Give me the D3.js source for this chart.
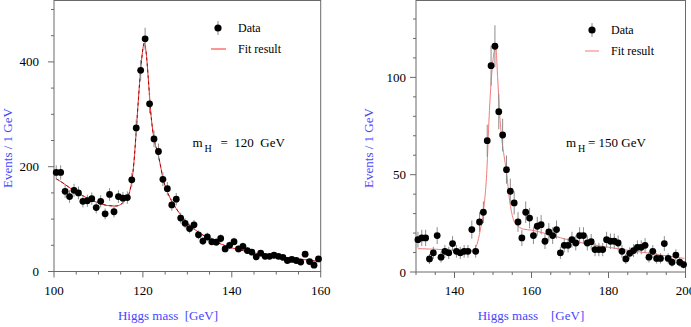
<!DOCTYPE html>
<html>
<head>
<meta charset="utf-8">
<script src="https://cdn.jsdelivr.net/npm/d3@7"></script>
<style>
  body { margin: 0; background: #fff; }
  svg text { font-family: "Liberation Serif", "DejaVu Serif", serif; }
</style>
</head>
<body>
<svg width="691" height="327"></svg>
<script>
// left panel: m_H = 120 GeV, bins of 1 GeV centred on half integers
var massLeft = d3.range(100.5, 160, 1);
var countsLeft = [189, 189, 153, 143, 155, 150, 134, 135, 139, 122, 134, 110, 147, 114, 143, 140, 141, 175,
    274, 384, 444, 320, 253, 229, 176, 158, 127, 138, 102, 92, 82, 89, 70, 58, 66, 57, 56, 63, 43, 50,
    57, 43, 48, 40, 37, 28, 35, 29, 29, 31, 29, 27, 21, 23, 21, 18, 33, 19, 12, 24];
var fitLeftMass = [100.5, 102, 104, 106, 108, 110, 112, 114, 115, 116, 117, 117.5, 118, 118.5, 119, 119.5, 120, 120.3,
    120.7, 121.2, 121.7, 122.2, 122.7, 123.3, 124, 124.5, 125.5, 126.5, 127.5, 128.5, 129.5, 130.5, 132, 134,
    136, 138, 140, 143, 146, 150, 155, 159.7];
var fitLeftVal = [177, 169, 157, 147, 138, 131, 126, 125, 128, 136, 152, 172, 210, 268, 330, 385, 425, 436,
    420, 370, 310, 270, 245, 228, 200, 178, 152, 134, 120, 108, 97, 88, 78, 67,
    58, 51, 45, 39, 34, 29, 24, 19];
var xTicksLeft = [100, 120, 140, 160];
var yTicksLeft = [0, 200, 400];

// right panel: m_H = 150 GeV
var massRight = d3.range(130.5, 200, 1);
var countsRight = [16.6, 17.5, 17.5, 6.7, 9.8, 18.7, 7.6, 10.6, 9.8, 14.6, 10.6, 9.8, 10.6, 10.6, 21.8, 10.6, 25.7, 30.7,
    67.5, 106, 116, 82.4, 70.4, 52.6, 41.5, 35.5, 25.7, 17.5, 30.7, 27.7, 18.7, 23.5, 24.3, 15.8, 20.6, 18.7,
    21.8, 9.8, 13.7, 13.7, 16.6, 14.9, 18.7, 18.7, 14.9, 15.6, 11.5, 11.5, 11.5, 16.6, 15.8, 15.8, 14.9, 10.6,
    6.7, 9.6, 11, 12.7, 12.7, 13.7, 7.6, 10.6, 7, 7, 14.6, 7, 5, 8.7, 5, 3.8];
var fitRightMass = [130.5, 135, 140, 144, 145, 145.8, 146.7, 147.5, 148.4, 149, 149.6, 150.2, 150.7, 151.2, 151.7,
    152.3, 153, 153.6, 154, 154.9, 155.8, 158, 160, 165, 170, 175, 180, 185, 190, 195, 199.7];
var fitRightVal = [12, 11.7, 11.2, 11, 11.5, 14, 21.6, 31, 52, 80, 100, 112, 116, 100, 82,
    68, 58, 50, 42, 30, 25, 22, 21.5, 19, 16.3, 14.3, 12.7, 11.2, 9.8, 8.3, 7];
var xTicksRight = [140, 160, 180, 200];
var yTicksRight = [0, 50, 100];

var blue = '#4646ff';
var axisColor = '#6a6a6a';
var svg = d3.select('svg');

function drawPanel(p) {
    var x = d3.scaleLinear().domain(p.xDomain).range(p.xRange);
    var y = d3.scaleLinear().domain(p.yDomain).range(p.yRange);
    var g = svg.append('g');
    var x0 = p.xRange[0], x1 = p.xRange[1], yb = p.yRange[0], yt = 0.5;

    // frame
    g.append('rect')
        .attr('x', x0).attr('y', yt)
        .attr('width', x1 - x0).attr('height', yb - yt)
        .attr('fill', 'none').attr('stroke', axisColor).attr('stroke-width', 1);

    // x ticks (major + minor)
    var xMinor = d3.range(p.xDomain[0], p.xDomain[1] + 0.01, p.xMinorStep);
    g.selectAll('.xt').data(xMinor).enter().append('line')
        .attr('x1', d => x(d)).attr('x2', d => x(d))
        .attr('y1', yb).attr('y2', d => yb + (p.xTicks.indexOf(d) >= 0 ? 6 : 3))
        .attr('stroke', axisColor);
    g.selectAll('.xl').data(p.xTicks).enter().append('text')
        .attr('x', d => x(d)).attr('y', 295)
        .attr('text-anchor', 'middle').attr('font-size', 13)
        .text(d => d);

    // y ticks
    var yMinor = d3.range(0, p.yDomain[1] + 0.01, p.yMinorStep).filter(d => y(d) >= 0);
    g.selectAll('.yt').data(yMinor).enter().append('line')
        .attr('y1', d => y(d)).attr('y2', d => y(d))
        .attr('x1', x0).attr('x2', d => x0 - (p.yTicks.indexOf(d) >= 0 ? 6 : 3))
        .attr('stroke', axisColor);
    g.selectAll('.yl').data(p.yTicks).enter().append('text')
        .attr('x', p.yLabelX).attr('y', d => y(d) + 4.5)
        .attr('text-anchor', 'end').attr('font-size', 13)
        .text(d => d);

    // fit curve
    var fit = p.fitMass.map((m, i) => [m, p.fitVal[i]]);
    var line = d3.line().x(d => x(d[0])).y(d => y(d[1])).curve(d3.curveMonotoneX);
    g.append('path').datum(fit)
        .attr('d', line).attr('fill', 'none')
        .attr('stroke', p.fitColor).attr('stroke-width', 1);
    if (p.fitDash) {
        g.append('path').datum(fit)
            .attr('d', line).attr('fill', 'none')
            .attr('stroke', '#5a0000').attr('stroke-width', 0.8)
            .attr('stroke-dasharray', '3,3');
    }

    // data with poisson error bars
    var pts = p.mass.map((m, i) => ({m: m, n: p.counts[i]}));
    g.selectAll('.eb').data(pts).enter().append('line')
        .attr('x1', d => x(d.m)).attr('x2', d => x(d.m))
        .attr('y1', d => y(d.n + Math.sqrt(d.n))).attr('y2', d => y(d.n - Math.sqrt(d.n)))
        .attr('stroke', '#8c8c8c').attr('stroke-width', 1);
    g.selectAll('.pt').data(pts).enter().append('circle')
        .attr('cx', d => x(d.m)).attr('cy', d => y(d.n))
        .attr('r', 3.4).attr('fill', '#000');

    // legend
    var lg = p.legend;
    g.append('line').attr('x1', lg.mx).attr('x2', lg.mx)
        .attr('y1', lg.my - 7).attr('y2', lg.my + 7).attr('stroke', '#8c8c8c');
    g.append('circle').attr('cx', lg.mx).attr('cy', lg.my).attr('r', 3.6).attr('fill', '#000');
    g.append('text').attr('x', lg.tx).attr('y', lg.my + 4).attr('font-size', 12).text('Data');
    g.append('line').attr('x1', lg.lx0).attr('x2', lg.lx1)
        .attr('y1', lg.my + 21).attr('y2', lg.my + 21).attr('stroke', p.fitColor);
    g.append('text').attr('x', lg.tx).attr('y', lg.my + 25).attr('font-size', 12).text('Fit result');

    // mass annotation
    var mt = g.append('text').attr('y', 147).attr('font-size', 13).style('white-space', 'pre');
    mt.append('tspan').attr('x', p.mh.x).text('m');
    mt.append('tspan').attr('x', p.mh.x + 12).attr('dy', 5).attr('font-size', 10).text('H');
    mt.append('tspan').attr('x', p.mh.x + p.mh.eq).attr('dy', -5).text(p.mh.text);

    // axis titles
    g.append('text')
        .attr('transform', 'translate(' + [p.yTitleX, 148] + ') rotate(-90)')
        .attr('text-anchor', 'middle').attr('font-size', 13).attr('fill', blue)
        .text('Events / 1 GeV');
    g.append('text')
        .attr('x', p.xTitleX).attr('y', 320)
        .attr('text-anchor', 'middle').attr('font-size', 13).attr('fill', blue)
        .style('white-space', 'pre')
        .text(p.xTitle);
}

drawPanel({
    xDomain: [100, 160], xRange: [54, 320.7], xMinorStep: 5, xTicks: xTicksLeft,
    yDomain: [0, 500], yRange: [271.5, 9.5], yMinorStep: 50, yTicks: yTicksLeft, yLabelX: 39,
    mass: massLeft, counts: countsLeft, fitMass: fitLeftMass, fitVal: fitLeftVal,
    fitColor: '#ff2a2a', fitDash: true,
    legend: {mx: 218, my: 28, tx: 238, lx0: 211, lx1: 226},
    mh: {x: 192.5, eq: 28, text: '=  120  GeV'},
    yTitleX: 12, xTitleX: 168, xTitle: 'Higgs mass  [GeV]'
});

drawPanel({
    xDomain: [130, 200], xRange: [416, 685.5], xMinorStep: 5, xTicks: xTicksRight,
    yDomain: [0, 130], yRange: [272, 19], yMinorStep: 10, yTicks: yTicksRight, yLabelX: 406,
    mass: massRight, counts: countsRight, fitMass: fitRightMass, fitVal: fitRightVal,
    fitColor: '#f27a7a', fitDash: false,
    legend: {mx: 592, my: 30, tx: 611, lx0: 585, lx1: 599},
    mh: {x: 566, eq: 22, text: '= 150 GeV'},
    yTitleX: 373, xTitleX: 531, xTitle: 'Higgs mass    [GeV]'
});
</script>
</body>
</html>
